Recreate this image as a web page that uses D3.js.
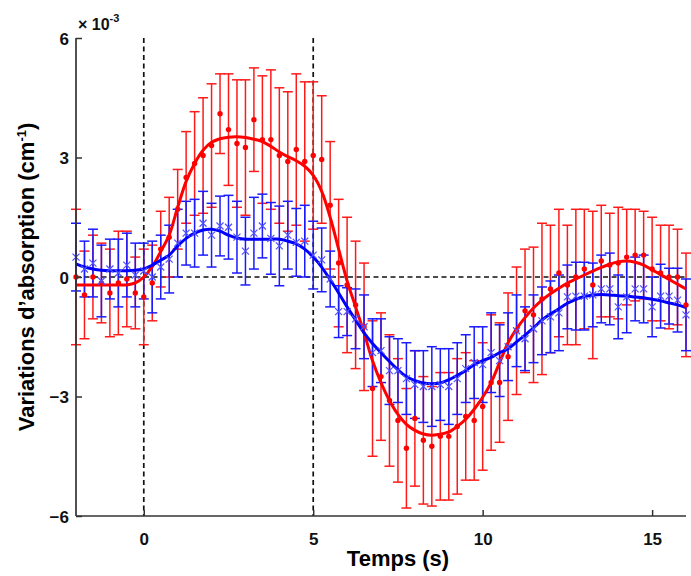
<!DOCTYPE html>
<html><head><meta charset="utf-8">
<script src="https://cdn.jsdelivr.net/npm/d3@7"></script>
<style>body{margin:0;background:#fff}svg text{font-family:"Liberation Sans",Arial,sans-serif;font-weight:bold}</style>
</head><body>
<script>
// time (s)
const time = d3.range(73).map(i => -2 + 0.25 * i);
// red series (x 10^-3 cm^-1)
const redMean = [0.0,-0.45,0.0,-0.15,-0.4,-0.15,-0.05,-0.4,-0.5,-0.15,0.7,1.0,1.7,2.5,2.85,3.05,3.3,4.1,3.7,3.35,3.25,3.95,3.45,3.45,3.05,2.9,3.2,2.9,3.05,2.95,1.8,0.35,-0.2,-0.7,-1.25,-2.8,-2.5,-3.1,-3.6,-4.3,-3.55,-4.1,-4.25,-4.0,-4.0,-3.75,-3.5,-3.6,-3.25,-2.65,-2.65,-2.0,-1.35,-0.85,-0.95,-0.55,-0.3,0.1,-0.2,0.0,0.2,-0.2,0.4,0.3,0.35,0.5,0.55,0.55,0.2,0.1,0.0,0.0,-0.7];
const redErr = [1.7,1.1,1.05,1.0,1.1,1.3,1.2,0.9,1.2,0.95,0.95,1.0,1.0,1.15,1.3,1.45,1.55,1.0,1.4,1.6,1.7,1.3,1.6,1.75,1.7,1.75,1.9,2.0,1.85,1.6,1.6,1.6,1.7,1.6,1.6,1.7,1.6,1.65,1.55,1.5,1.7,1.6,1.5,1.6,1.6,1.7,1.6,1.5,1.6,1.7,1.5,1.6,1.6,1.55,1.7,1.9,1.6,1.6,1.5,1.7,1.5,1.85,1.4,1.3,1.4,1.2,1.15,1.1,1.3,1.2,1.3,1.2,1.3];
const redSmooth = [-0.2,-0.2,-0.2,-0.2,-0.2,-0.2,-0.2,-0.15,0.0,0.26,0.64,1.05,1.75,2.4,2.85,3.18,3.38,3.47,3.51,3.52,3.5,3.46,3.4,3.28,3.14,3.02,2.92,2.78,2.55,2.15,1.5,0.7,-0.1,-0.75,-1.4,-2.1,-2.65,-3.1,-3.45,-3.7,-3.85,-3.94,-3.97,-3.95,-3.89,-3.75,-3.57,-3.32,-3.02,-2.65,-2.15,-1.65,-1.3,-1.02,-0.78,-0.58,-0.42,-0.28,-0.15,-0.05,0.05,0.15,0.24,0.32,0.38,0.4,0.37,0.3,0.18,0.06,-0.06,-0.18,-0.3];
// blue series (x 10^-3 cm^-1)
const blueMean = [0.5,0.2,0.35,-0.1,0.2,0.1,0.3,0.05,0.15,0.0,0.25,0.45,0.85,1.1,1.1,1.35,1.05,1.28,1.25,1.0,0.65,1.1,1.28,0.97,0.78,1.05,0.87,0.9,0.55,0.43,-0.05,-0.87,-0.87,-1.05,-1.25,-1.9,-1.85,-2.35,-2.35,-2.55,-2.7,-2.75,-2.75,-2.7,-2.75,-2.55,-2.3,-2.15,-2.2,-1.9,-2.1,-1.75,-1.35,-1.55,-1.3,-1.1,-1.0,-0.9,-0.5,-0.48,-0.48,-0.45,-0.3,-0.3,-0.75,-0.5,-0.3,-0.3,-0.75,-0.48,-0.48,-0.58,-0.95];
const blueErr = [0.85,0.7,0.85,0.9,0.75,0.85,0.8,0.8,0.7,0.9,0.8,0.85,0.85,0.8,0.85,0.8,0.8,0.75,0.8,0.9,0.85,0.9,0.8,0.9,1.0,0.85,0.85,0.9,0.85,0.8,0.7,0.65,0.6,0.75,0.8,0.85,0.8,0.85,0.8,0.9,0.85,0.9,1.0,0.9,0.95,0.9,0.85,0.9,0.95,1.0,0.9,0.85,0.9,0.8,0.85,0.85,0.9,0.95,0.8,0.85,0.85,0.8,0.85,0.9,0.8,0.9,0.8,0.85,0.75,0.8,0.7,0.8,0.9];
const blueSmooth = [0.33,0.25,0.2,0.17,0.16,0.16,0.16,0.17,0.2,0.3,0.42,0.55,0.78,0.97,1.1,1.18,1.2,1.15,1.05,0.98,0.95,0.95,0.95,0.95,0.95,0.9,0.83,0.7,0.5,0.25,-0.07,-0.4,-0.75,-1.08,-1.4,-1.67,-1.9,-2.12,-2.33,-2.5,-2.6,-2.66,-2.68,-2.66,-2.58,-2.47,-2.35,-2.2,-2.1,-2.02,-1.9,-1.8,-1.63,-1.46,-1.28,-1.08,-0.93,-0.8,-0.66,-0.56,-0.49,-0.45,-0.44,-0.45,-0.47,-0.48,-0.5,-0.52,-0.56,-0.6,-0.65,-0.7,-0.77];
const xTicks = [0, 5, 10, 15];
const yTicks = [-6, -3, 0, 3, 6];
const markerTimes = [0, 5];

const W = 691, H = 576;
const svg = d3.select("body").append("svg").attr("width", W).attr("height", H);
const x = d3.scaleLinear().domain([-2, 16]).range([76, 686]);
const y = d3.scaleLinear().domain([-6, 6]).range([516, 38]);

// dashed reference lines
svg.append("line").attr("x1", x(-2)).attr("x2", x(16)).attr("y1", y(0)).attr("y2", y(0))
  .attr("stroke", "#111").attr("stroke-width", 1.7).attr("stroke-dasharray", "5,3.5");
markerTimes.forEach(t => svg.append("line").attr("x1", x(t)).attr("x2", x(t)).attr("y1", y(6)).attr("y2", y(-6))
  .attr("stroke", "#111").attr("stroke-width", 1.7).attr("stroke-dasharray", "5,3.5"));

function errorBars(mean, err, color) {
  const g = svg.append("g").attr("stroke", color).attr("stroke-width", 1.5).attr("fill", "none");
  time.forEach((t, i) => {
    const cx = x(t), top = y(mean[i] + err[i]), bot = y(mean[i] - err[i]);
    g.append("line").attr("x1", cx).attr("x2", cx).attr("y1", top).attr("y2", bot);
    g.append("line").attr("x1", cx - 5).attr("x2", cx + 5).attr("y1", top).attr("y2", top);
    g.append("line").attr("x1", cx - 5).attr("x2", cx + 5).attr("y1", bot).attr("y2", bot);
  });
}
errorBars(redMean, redErr, "#ff1a1a");
errorBars(blueMean, blueErr, "#1a1aff");

const line = d3.line().x((d, i) => x(time[i])).y(d => y(d)).curve(d3.curveCatmullRom);
svg.append("path").datum(redSmooth).attr("d", line).attr("fill", "none").attr("stroke", "#ff0000").attr("stroke-width", 3);
svg.append("path").datum(blueSmooth).attr("d", line).attr("fill", "none").attr("stroke", "#0000ff").attr("stroke-width", 3);

// markers
svg.append("g").selectAll("circle").data(redMean).join("circle")
  .attr("cx", (d, i) => x(time[i])).attr("cy", d => y(d)).attr("r", 2.7).attr("fill", "#ff0000");
const bm = svg.append("g").attr("stroke", "#5050ff").attr("stroke-width", 1.2);
blueMean.forEach((d, i) => {
  const cx = x(time[i]), cy = y(d), s = 3.5;
  bm.append("line").attr("x1", cx - s).attr("x2", cx + s).attr("y1", cy - s).attr("y2", cy + s);
  bm.append("line").attr("x1", cx - s).attr("x2", cx + s).attr("y1", cy + s).attr("y2", cy - s);
});

// axes
const axisColor = "#333";
const xAxis = svg.append("g").attr("transform", `translate(0,${y(-6)})`)
  .call(d3.axisBottom(x).tickValues(xTicks).tickSize(-6).tickPadding(17).tickFormat(d3.format("d")));
const yAxis = svg.append("g").attr("transform", `translate(${x(-2)},0)`)
  .call(d3.axisLeft(y).tickValues(yTicks).tickSize(-6).tickPadding(7).tickFormat(d3.format("d")));
[xAxis, yAxis].forEach(a => {
  a.select(".domain").attr("stroke", axisColor).attr("stroke-width", 1.7);
  a.selectAll(".tick line").attr("stroke", axisColor).attr("stroke-width", 1.5);
  a.selectAll(".tick text").attr("fill", "#111").style("font-size", "17px").style("font-weight", "bold");
});
yAxis.selectAll(".tick text").attr("dy", "0.36em");
xAxis.select(".domain").attr("d", `M${x(-2)},0H${x(16)}`);
yAxis.select(".domain").attr("d", `M0,${y(6)}V${y(-6)}`);

// exponent label
const ex = svg.append("text").attr("x", 78).attr("y", 30).attr("fill", "#111").style("font-size", "16px");
ex.append("tspan").text("× 10");
ex.append("tspan").attr("dy", -8).style("font-size", "11px").text("-3");

// axis titles
svg.append("text").attr("x", 398).attr("y", 566).attr("text-anchor", "middle").attr("fill", "#000")
  .style("font-size", "22px").text("Temps (s)");
const yl = svg.append("text").attr("transform", `translate(34,277) rotate(-90)`).attr("text-anchor", "middle")
  .attr("fill", "#000").style("font-size", "22px");
yl.append("tspan").text("Variations d’absorption (cm");
yl.append("tspan").attr("dy", -8).style("font-size", "13px").text("-1");
yl.append("tspan").attr("dy", 8).text(")");
</script>
</body></html>
